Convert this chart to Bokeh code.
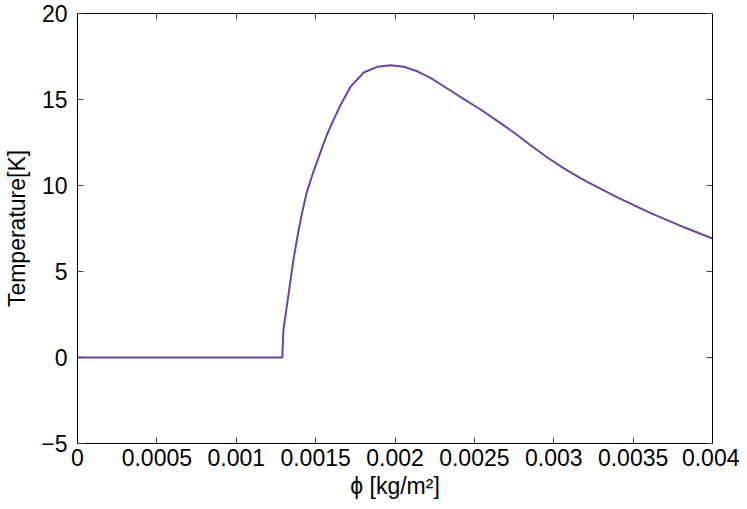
from bokeh.plotting import figure
from bokeh.models import FixedTicker, LinearAxis, Range1d
from bokeh.embed import file_html
from bokeh.resources import INLINE

# data
phi = [0.0, 0.00129, 0.001297, 0.001318, 0.001339, 0.001360, 0.001385, 0.001412,
       0.001444, 0.001486, 0.001529, 0.001570, 0.001612, 0.001656, 0.001719,
       0.001803, 0.001888, 0.001972, 0.002056, 0.002140, 0.002224, 0.002329,
       0.002434, 0.002539, 0.002644, 0.002749, 0.002854, 0.002960,
       0.003064, 0.003170, 0.003275, 0.003401, 0.003527, 0.003611, 0.003737,
       0.003821, 0.004000]
temp = [0.0, 0.0, 1.59, 2.94, 4.30, 5.66, 7.01, 8.30,
        9.60, 10.80, 11.90, 12.92, 13.80, 14.66, 15.73,
        16.57, 16.90, 16.99, 16.90, 16.64, 16.26, 15.64,
        15.02, 14.42, 13.76, 13.08, 12.34, 11.63,
        11.00, 10.42, 9.90, 9.31, 8.76, 8.39, 7.90,
        7.57, 6.92]

x_ticks = [0, 0.0005, 0.001, 0.0015, 0.002, 0.0025, 0.003, 0.0035, 0.004]
x_tick_labels = ["0", "0.0005", "0.001", "0.0015", "0.002", "0.0025", "0.003", "0.0035", "0.004"]
y_ticks = [-5, 0, 5, 10, 15, 20]
y_tick_labels = ["\u22125", "0", "5", "10", "15", "20"]

FONT = "Liberation Sans"
FS = "23px"

p = figure(width=739, height=501, output_backend="svg", toolbar_location=None,
           x_range=Range1d(0, 0.004), y_range=Range1d(-5, 20),
           min_border_left=77, min_border_right=27, min_border_top=13, min_border_bottom=57)
p.grid.visible = False
p.outline_line_color = "black"
p.outline_line_width = 1
p.background_fill_color = "white"
p.border_fill_color = "white"

def style(ax, ticks, labels, show_labels=True):
    ax.ticker = FixedTicker(ticks=ticks)
    ax.major_label_overrides = {t: l for t, l in zip(ticks, labels)}
    ax.minor_tick_line_color = None
    ax.major_tick_in = 6
    ax.major_tick_out = 0
    ax.major_tick_line_color = "#444444"
    ax.axis_line_color = "black"
    ax.major_label_text_font = FONT
    ax.major_label_text_font_size = FS
    ax.major_label_text_color = "black" if show_labels else None
    ax.axis_label_text_font = FONT
    ax.axis_label_text_font_size = FS
    ax.axis_label_text_font_style = "normal"
    ax.axis_label_text_color = "black"

style(p.xaxis[0], x_ticks, x_tick_labels)
style(p.yaxis[0], y_ticks, y_tick_labels)
p.xaxis[0].axis_label = "\u03d5 [kg/m\u00b2]"
p.yaxis[0].axis_label = "Temperature[K]"
p.xaxis[0].major_label_standoff = 5
p.yaxis[0].major_label_standoff = 10
p.xaxis[0].axis_label_standoff = 4
p.yaxis[0].axis_label_standoff = 8

top = LinearAxis()
style(top, x_ticks, x_tick_labels, show_labels=False)
top.major_label_text_font_size = "0px"
top.major_label_standoff = 0
p.add_layout(top, "above")
right = LinearAxis()
style(right, y_ticks, y_tick_labels, show_labels=False)
right.major_label_text_font_size = "0px"
right.major_label_standoff = 0
p.add_layout(right, "right")

p.line(phi, temp, line_color="#7143a0", line_width=2)

open("out.html", "w").write(file_html(p, INLINE))
